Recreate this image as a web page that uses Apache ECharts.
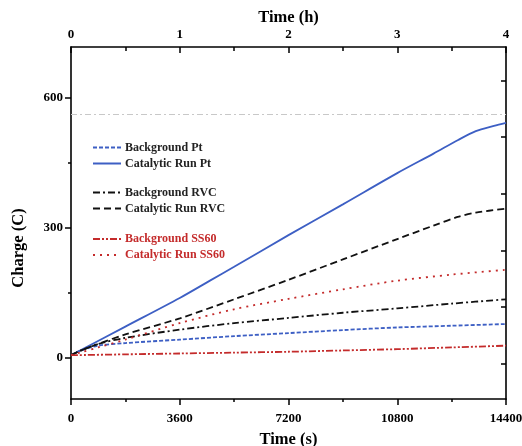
<!DOCTYPE html>
<html>
<head>
<meta charset="utf-8">
<script src="https://cdn.jsdelivr.net/npm/echarts@6/dist/echarts.min.js"></script>
<style>html,body{margin:0;padding:0;background:#fff}#c{width:522px;height:446px}</style>
</head>
<body>
<div id="c"></div>
<script>
// Time (s) / Charge (C) for each series
const bgPtT   = [0, 300, 900, 1800, 3600, 5400, 7200, 9000, 10800, 12600, 14400];
const bgPtV   = [6, 16, 28, 34, 42, 50, 57, 64, 70, 74, 78];
const catPtT  = [0, 1800, 3600, 4600, 5400, 7200, 9000, 10800, 12000, 12800, 13400, 14000, 14400];
const catPtV  = [6, 72, 138, 178, 210, 283, 354, 426, 471, 502, 523, 535, 542];
const bgRvcT  = [0, 300, 900, 1800, 3600, 5400, 7200, 9000, 10800, 12600, 14400];
const bgRvcV  = [6, 16, 32, 46, 65, 80, 92, 104, 114, 125, 135];
const catRvcT = [0, 300, 900, 1800, 3600, 5400, 7200, 9000, 10800, 12000, 12800, 13400, 14400];
const catRvcV = [6, 16, 32, 54, 91, 135, 180, 227, 274, 305, 325, 335, 344];
const bgSsT   = [0, 1800, 3600, 5400, 7200, 9000, 10800, 12600, 14400];
const bgSsV   = [6, 8, 10, 12, 14, 17, 20, 24, 28];
const catSsT  = [0, 300, 900, 1800, 3600, 5400, 7200, 9000, 10800, 12600, 14400];
const catSsV  = [6, 12, 24, 42, 80, 112, 136, 158, 178, 192, 203];
const refLineValue = 561;
const bottomTicks = [0, 3600, 7200, 10800, 14400];
const topTicks = [0, 1, 2, 3, 4];
const leftTicks = [0, 300, 600];
const leftMinorTicks = [150, 450];
const rightTicks = [-13, 117.5, 248, 378.5, 509, 639.5];

const names = ['Background Pt', 'Catalytic Run Pt', 'Background RVC', 'Catalytic Run RVC', 'Background SS60', 'Catalytic Run SS60'];
const BLUE = '#3d5fc4', BLACK = '#111111', RED = '#c42b2b';
const FONT = 'Liberation Serif';

function pts(t, v) { return t.map((x, i) => [x, v[i]]); }
function line(name, t, v, color, type, extra) {
  return Object.assign({
    name, type: 'line', xAxisIndex: 0, yAxisIndex: 0,
    data: pts(t, v), smooth: 0.3, symbol: 'none', showSymbol: false,
    lineStyle: { color, width: 1.8, type },
    itemStyle: { color },
    animation: false, z: 3
  }, extra || {});
}

const lblStyle = { fontFamily: FONT, fontWeight: 'bold', fontSize: 13, color: '#000', formatter: v => String(v) };
const axisLine = { show: true, onZero: false, lineStyle: { color: '#000', width: 1.6 } };
const nameStyle = { fontFamily: FONT, fontWeight: 'bold', fontSize: 16.5, color: '#000' };

function legend(top, a, b, color) {
  return {
    orient: 'vertical', left: 87, top, itemWidth: 28, itemHeight: 10, itemGap: 4,
    data: [
      { name: a, textStyle: { color } },
      { name: b, textStyle: { color } }
    ],
    itemStyle: { opacity: 0 },
    textStyle: { fontFamily: FONT, fontWeight: 'bold', fontSize: 12, color, padding: [0, 0, 0, -1] },
    selectedMode: false
  };
}

const chart = echarts.init(document.getElementById('c'), null, { renderer: 'canvas' });
chart.setOption({
  backgroundColor: '#fff',
  animation: false,
  grid: { left: 71, right: 16, top: 47, bottom: 47, containLabel: false, outerBoundsMode: 'none' },
  legend: [
    legend(136.5, names[0], names[1], '#222'),
    legend(181.5, names[2], names[3], '#222'),
    legend(228, names[4], names[5], RED)
  ],
  xAxis: [
    {
      type: 'value', position: 'bottom', min: 0, max: 14400, interval: 3600,
      name: 'Time (s)', nameLocation: 'middle', nameGap: 32, nameTextStyle: nameStyle,
      axisLine, splitLine: { show: false },
      axisTick: { show: true, length: 6, lineStyle: { color: '#000', width: 1.5 } },
      minorTick: { show: true, splitNumber: 2, length: 3, lineStyle: { color: '#000', width: 1.5 } },
      axisLabel: Object.assign({}, lblStyle, { margin: 13, customValues: bottomTicks })
    },
    {
      type: 'value', position: 'top', min: 0, max: 4, interval: 1,
      name: 'Time (h)', nameLocation: 'middle', nameGap: 21, nameMoveOverlap: false, nameTextStyle: nameStyle,
      axisLine, splitLine: { show: false },
      axisTick: { show: true, inside: true, length: 6, lineStyle: { color: '#000', width: 1.5 } },
      minorTick: { show: true, splitNumber: 2, length: 4, lineStyle: { color: '#000', width: 1.5 } },
      axisLabel: Object.assign({}, lblStyle, { margin: 6, customValues: topTicks })
    }
  ],
  yAxis: [
    {
      type: 'value', position: 'left', min: -95, max: 717,
      name: 'Charge (C)', nameLocation: 'middle', nameGap: 44,
      nameTextStyle: Object.assign({}, nameStyle, { padding: [0, 50, 0, 0] }),
      axisLine, splitLine: { show: false },
      axisTick: { show: true, length: 6, customValues: leftTicks, lineStyle: { color: '#000', width: 1.5 } },
      axisLabel: Object.assign({}, lblStyle, { margin: 8, customValues: leftTicks })
    },
    {
      type: 'value', position: 'right', min: -95, max: 717,
      axisLine, splitLine: { show: false },
      axisTick: { show: true, inside: true, length: 5, customValues: rightTicks, lineStyle: { color: '#000', width: 1.5 } },
      axisLabel: { show: false }
    },
    {
      type: 'value', position: 'left', min: -95, max: 717,
      axisLine: { show: false, onZero: false }, splitLine: { show: false },
      axisTick: { show: true, length: 3, customValues: leftMinorTicks, lineStyle: { color: '#000', width: 1.5 } },
      axisLabel: { show: false }
    }
  ],
  series: [
    line(names[0], bgPtT, bgPtV, BLUE, [4, 2]),
    line(names[1], catPtT, catPtV, BLUE, 'solid', {
      markLine: {
        silent: true, symbol: 'none', label: { show: false },
        lineStyle: { color: '#c8c8c8', width: 1.2, type: [6, 3, 2, 3] },
        data: [{ yAxis: refLineValue }]
      }
    }),
    line(names[2], bgRvcT, bgRvcV, BLACK, [7, 3, 2, 3]),
    line(names[3], catRvcT, catRvcV, BLACK, [7, 4]),
    line(names[4], bgSsT, bgSsV, RED, [7, 2, 2, 2, 2, 2]),
    line(names[5], catSsT, catSsV, RED, [2, 5])
  ]
});
</script>
</body>
</html>
